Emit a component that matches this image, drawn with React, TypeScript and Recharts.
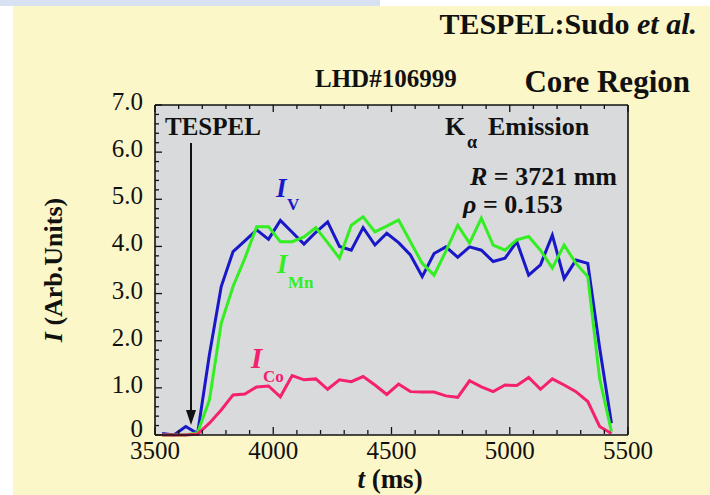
import React from "react";
import { LineChart, Line, XAxis, YAxis, CartesianGrid } from "recharts";

const times = [
  3530, 3580, 3630, 3680, 3730, 3780, 3830, 3880, 3930, 3980, 4030, 4080, 4130,
  4180, 4230, 4280, 4330, 4380, 4430, 4480, 4530, 4580, 4630, 4680, 4730, 4780,
  4830, 4880, 4930, 4980, 5030, 5080, 5130, 5180, 5230, 5280, 5330, 5380, 5430,
];
const iV = [
  0.03, 0.0, 0.18, 0.03, 1.7, 3.15, 3.89, 4.12, 4.35, 4.15, 4.55, 4.3, 4.05,
  4.3, 4.52, 4.0, 3.92, 4.4, 4.03, 4.28, 4.08, 3.82, 3.36, 3.85, 3.99, 3.77,
  3.99, 3.92, 3.68, 3.75, 4.1, 3.39, 3.61, 4.24, 3.32, 3.71, 3.64, 1.85, 0.25,
];
const iMn = [
  0, 0, 0, 0.05, 0.74, 2.37, 3.15, 3.75, 4.42, 4.42, 4.1, 4.1, 4.2,
  4.4, 4.08, 3.75, 4.45, 4.63, 4.31, 4.43, 4.56, 4.1, 3.64, 3.39, 3.9, 4.45,
  4.07, 4.6, 4.03, 3.92, 4.14, 4.21, 3.92, 3.54, 4.03, 3.64, 3.36, 1.2, 0.07,
];
const iCo = [
  0, 0, 0, 0.02, 0.25, 0.53, 0.85, 0.87, 1.02, 1.04, 0.81, 1.26, 1.17,
  1.19, 0.97, 1.17, 1.13, 1.24, 1.06, 0.86, 1.08, 0.92, 0.91, 0.91, 0.83, 0.8,
  1.15, 1.02, 0.92, 1.06, 1.05, 1.22, 0.97, 1.19, 1.06, 0.92, 0.71, 0.18, 0.03,
];

const xTicks = [
  3500, 3600, 3700, 3800, 3900, 4000, 4100, 4200, 4300, 4400, 4500, 4600, 4700,
  4800, 4900, 5000, 5100, 5200, 5300, 5400, 5500,
];
const yTicks = Array.from({ length: 36 }, (_, i) => Math.round(i * 2) / 10);

const data = times.map((t, i) => ({ t, v: iV[i], mn: iMn[i], co: iCo[i] }));

const FONT = "'Liberation Serif', 'Times New Roman', serif";
const isMajorX = (v: number) => v % 500 === 0;
const isMajorY = (v: number) => Math.abs(v - Math.round(v)) < 1e-6;

const BottomTick = (p: any) => {
  const v = p.payload.value;
  const major = isMajorX(v);
  return (
    <g>
      <line x1={p.x} x2={p.x} y1={p.y - 1} y2={p.y - 1 - (major ? 7 : 4)} stroke="#111" strokeWidth={1.3} />
      {major && (
        <text x={p.x} y={p.y + 24} textAnchor="middle" fontSize={25} fontFamily={FONT} fill="#111">
          {v}
        </text>
      )}
    </g>
  );
};
const TopTick = (p: any) => {
  const major = isMajorX(p.payload.value);
  return <line x1={p.x} x2={p.x} y1={p.y} y2={p.y + (major ? 7 : 4)} stroke="#111" strokeWidth={1.3} />;
};
const LeftTick = (p: any) => {
  const v = p.payload.value;
  const major = isMajorY(v);
  return (
    <g>
      <line x1={p.x} x2={p.x + (major ? 7 : 4)} y1={p.y} y2={p.y} stroke="#111" strokeWidth={1.3} />
      {major && (
        <text x={p.x - 12} y={p.y + (v === 0 ? 2 : 5)} textAnchor="end" fontSize={25} fontFamily={FONT} fill="#111">
          {v === 0 ? "0" : v.toFixed(1)}
        </text>
      )}
    </g>
  );
};
const RightTick = (p: any) => {
  const major = isMajorY(p.payload.value);
  return <line x1={p.x} x2={p.x - (major ? 7 : 4)} y1={p.y} y2={p.y} stroke="#111" strokeWidth={1.3} />;
};

const App = () => {
  return (
    <div style={{ position: "absolute", left: 0, top: 0, width: 710, height: 495, background: "#ffffff", overflow: "hidden" }}>
      <div style={{ position: "absolute", left: 0, top: 0, width: 380, height: 6, background: "#d8e1f1" }} />
      <div style={{ position: "absolute", left: 13, top: 6, width: 697, height: 489, background: "#fcf7c8" }} />
      <div style={{ position: "absolute", left: 0, top: 0 }}>
        <LineChart width={710} height={495} data={data} margin={{ top: 104, right: 81, bottom: 59, left: 154 }}>
          <CartesianGrid fill="#d9dadb" stroke="none" horizontal={false} vertical={false} />
          <XAxis
            xAxisId="b"
            dataKey="t"
            type="number"
            domain={[3500, 5500]}
            ticks={xTicks}
            interval={0}
            height={1}
            tickSize={0}
            tickMargin={0}
            tickLine={false}
            tick={<BottomTick />}
            axisLine={{ stroke: "#111", strokeWidth: 1.6 }}
          />
          <XAxis
            xAxisId="t"
            orientation="top"
            dataKey="t"
            type="number"
            domain={[3500, 5500]}
            ticks={xTicks}
            interval={0}
            height={1}
            tickSize={0}
            tickMargin={0}
            tickLine={false}
            tick={<TopTick />}
            axisLine={{ stroke: "#111", strokeWidth: 1.6 }}
          />
          <YAxis
            yAxisId="l"
            type="number"
            domain={[0, 7]}
            ticks={yTicks}
            interval={0}
            width={1}
            tickSize={0}
            tickMargin={0}
            tickLine={false}
            tick={<LeftTick />}
            axisLine={{ stroke: "#111", strokeWidth: 1.6 }}
          />
          <YAxis
            yAxisId="r"
            orientation="right"
            type="number"
            domain={[0, 7]}
            ticks={yTicks}
            interval={0}
            width={1}
            tickSize={0}
            tickMargin={0}
            tickLine={false}
            tick={<RightTick />}
            axisLine={{ stroke: "#111", strokeWidth: 1.6 }}
          />
          <Line xAxisId="b" yAxisId="l" type="linear" dataKey="v" stroke="#1818c8" strokeWidth={3} dot={false} isAnimationActive={false} />
          <Line xAxisId="b" yAxisId="l" type="linear" dataKey="mn" stroke="#33ee22" strokeWidth={3} dot={false} isAnimationActive={false} />
          <Line xAxisId="b" yAxisId="l" type="linear" dataKey="co" stroke="#f5206e" strokeWidth={3} dot={false} isAnimationActive={false} />
        </LineChart>
      </div>
      <svg width={710} height={495} style={{ position: "absolute", left: 0, top: 0, pointerEvents: "none" }} fontFamily={FONT} fontWeight="bold" fill="#111">
        <text x={697} y={34} fontSize={30} textAnchor="end">
          TESPEL:Sudo <tspan fontStyle="italic">et al.</tspan>
        </text>
        <text x={315} y={87} fontSize={25}>LHD#106999</text>
        <text x={690} y={92} fontSize={31} textAnchor="end">Core Region</text>
        <text x={165} y={135} fontSize={25}>TESPEL</text>
        <line x1={191} x2={191} y1={143} y2={418} stroke="#111" strokeWidth={2} />
        <polygon points="186,410 196,410 191,425" fill="#111" />
        <text x={445} y={135} fontSize={26}>K</text>
        <text x={467} y={148} fontSize={18}>α</text>
        <text x={488} y={135} fontSize={26}>Emission</text>
        <text x={617} y={185} fontSize={26} textAnchor="end">
          <tspan fontStyle="italic">R</tspan> = 3721 mm
        </text>
        <text x={463} y={213} fontSize={26}>
          <tspan fontStyle="italic">ρ</tspan> = 0.153
        </text>
        <g fill="#1818c8">
          <text x={276} y={197} fontSize={27} fontStyle="italic">I</text>
          <text x={287} y={210} fontSize={17}>V</text>
        </g>
        <g fill="#33ee22">
          <text x={277} y={273} fontSize={27} fontStyle="italic">I</text>
          <text x={288} y={288} fontSize={17}>Mn</text>
        </g>
        <g fill="#f5206e">
          <text x={251} y={368} fontSize={29} fontStyle="italic">I</text>
          <text x={263} y={382} fontSize={17}>Co</text>
        </g>
        <text x={390} y={488} fontSize={27} textAnchor="middle">
          <tspan fontStyle="italic">t</tspan> (ms)
        </text>
        <text x={62} y={270} fontSize={26} textAnchor="middle" transform="rotate(-90 62 270)">
          <tspan fontStyle="italic">I</tspan> (Arb.Units)
        </text>
      </svg>
    </div>
  );
};

export default App;
